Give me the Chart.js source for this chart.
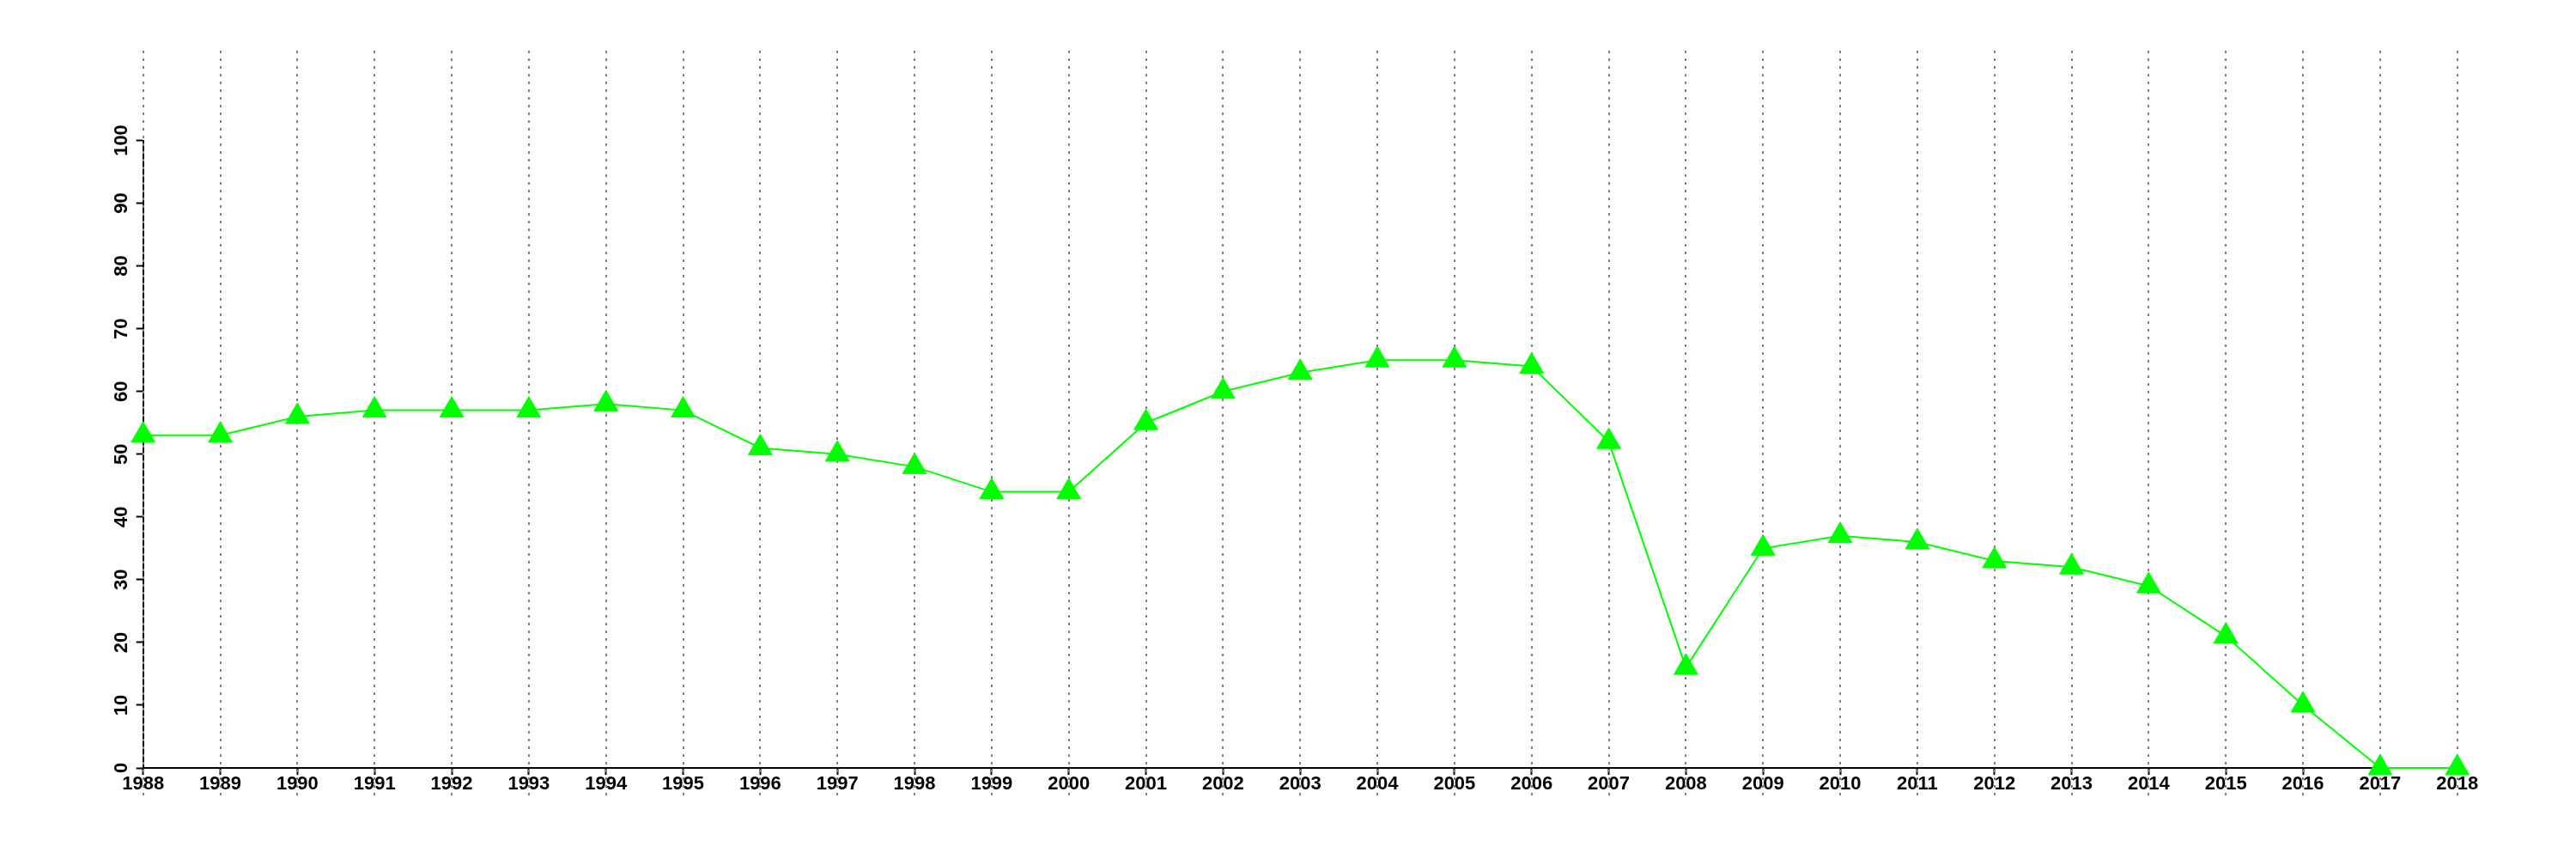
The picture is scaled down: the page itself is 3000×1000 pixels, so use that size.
<!DOCTYPE html>
<html>
<head>
<meta charset="utf-8">
<script src="https://cdn.jsdelivr.net/npm/chart.js@4"></script>
<style>
  html, body { margin: 0; padding: 0; background: #ffffff; }
  canvas { display: block; }
</style>
</head>
<body>
<canvas id="c" width="3000" height="1000"></canvas>
<script>
const years = ['1988','1989','1990','1991','1992','1993','1994','1995','1996','1997','1998','1999','2000','2001','2002','2003','2004','2005','2006','2007','2008','2009','2010','2011','2012','2013','2014','2015','2016','2017','2018'];
const values = [53,53,56,57,57,57,58,57,51,50,48,44,44,55,60,63,65,65,64,52,16,35,37,36,33,32,29,21,10,0,0];
const yMin = 0;
const yMax = 100;
const yStep = 10;

const extGrid = {
  id: 'extGrid',
  beforeDatasetsDraw(chart) {
    const { ctx, scales: { x } } = chart;
    ctx.save();
    ctx.strokeStyle = '#808080';
    ctx.lineWidth = 2;
    ctx.setLineDash([3, 6]);
    x.ticks.forEach((t, i) => {
      const px = Math.round(x.getPixelForTick(i));
      ctx.beginPath();
      ctx.moveTo(px, 59);
      ctx.lineTo(px, 927);
      ctx.stroke();
    });
    ctx.restore();
  }
};

const font = { family: '"Liberation Sans", Arial, Helvetica, sans-serif', size: 22, weight: 'bold' };

new Chart(document.getElementById('c'), {
  type: 'line',
  data: {
    labels: years,
    datasets: [{
      data: values,
      borderColor: '#00ff00',
      borderWidth: 2,
      backgroundColor: '#00ff00',
      pointStyle: 'triangle',
      pointRadius: 16,
      pointHoverRadius: 16,
      pointBackgroundColor: '#00ff00',
      pointBorderColor: '#00ff00',
      pointBorderWidth: 1,
      tension: 0,
      fill: false,
      clip: false
    }]
  },
  options: {
    responsive: false,
    animation: false,
    devicePixelRatio: 1,
    layout: { padding: { left: 0, right: 138.3, top: 163.5, bottom: 66 } },
    plugins: { legend: { display: false }, tooltip: { enabled: false } },
    scales: {
      x: {
        offset: false,
        grid: { display: true, drawOnChartArea: false, drawTicks: true, tickLength: 8, tickColor: '#000000', tickWidth: 2 },
        border: { display: true, color: '#000000', width: 2 },
        ticks: { color: '#000000', font: font, padding: -2, maxRotation: 0, minRotation: 0, autoSkip: false },
        afterFit: (s) => { s.height = 40; }
      },
      y: {
        min: yMin,
        max: yMax,
        grid: { display: true, drawOnChartArea: false, drawTicks: true, tickLength: 8, tickColor: '#000000', tickWidth: 2 },
        border: { display: true, color: '#000000', width: 2 },
        ticks: { stepSize: yStep, color: '#000000', font: font, padding: -2, minRotation: 90, maxRotation: 90, crossAlign: 'center' },
        afterFit: (s) => { s.width = 166.7; }
      }
    }
  },
  plugins: [extGrid]
});
</script>
</body>
</html>
